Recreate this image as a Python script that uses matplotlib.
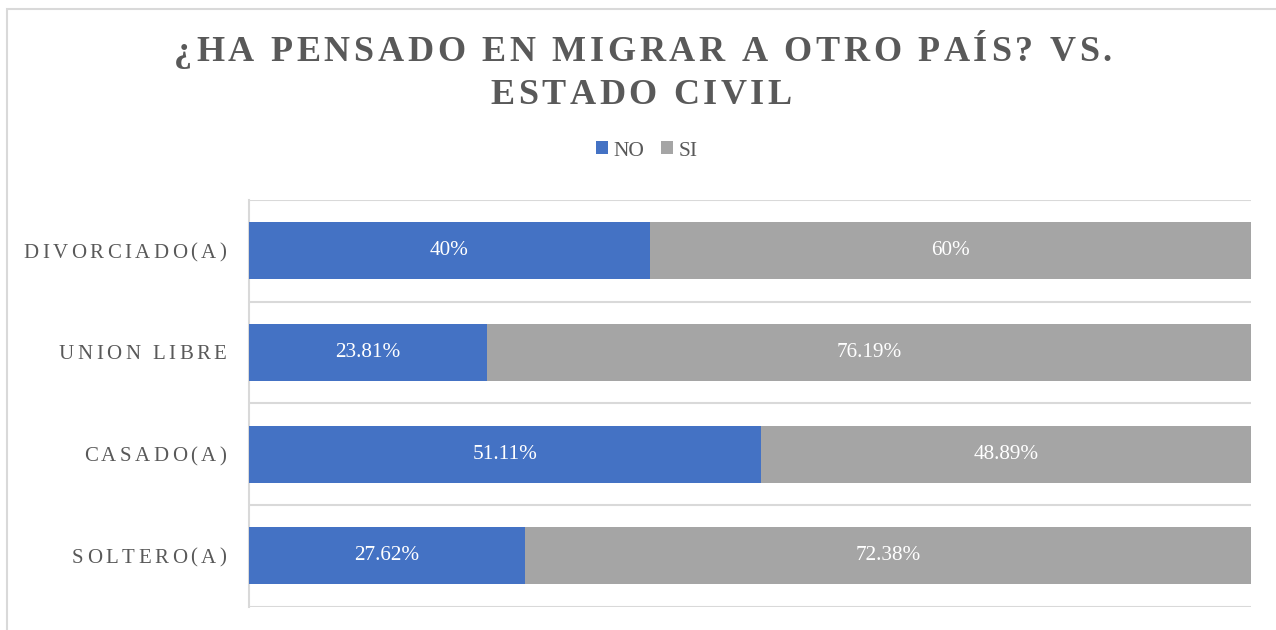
import matplotlib
matplotlib.use("Agg")
import matplotlib.pyplot as plt
from matplotlib.patches import Rectangle
from matplotlib.font_manager import FontProperties, findfont
from matplotlib.ft2font import FT2Font, LoadFlags

# ---- data ----
categories = ["SOLTERO(A)", "CASADO(A)", "UNION LIBRE", "DIVORCIADO(A)"]
no_values = [27.62, 51.11, 23.81, 40]
si_values = [72.38, 48.89, 76.19, 60]
series_names = ["NO", "SI"]
title_lines = ["¿HA PENSADO EN MIGRAR A OTRO PAÍS? VS.", "ESTADO CIVIL"]

# ---- styles ----
W, H, DPI = 1276, 630, 100
BLUE = "#4472C4"
GREY = "#A5A5A5"
TXT = "#595959"
GRID = "#D9D9D9"
SERIF = "Liberation Serif"

fig = plt.figure(figsize=(W / DPI, H / DPI), dpi=DPI)
fig.patch.set_facecolor("white")

# chart-area border (extends beyond right/bottom edge)
fig.patches.append(Rectangle((7 / W, -0.05), 1.2, 1 - 9 / H + 0.05,
                             transform=fig.transFigure, fill=False,
                             edgecolor=GRID, linewidth=1.5, zorder=0))

ax = fig.add_axes([248.5 / W, 1 - 606.7 / H, (1251 - 248.5) / W, (606.7 - 200) / H])
y = list(range(len(categories)))
bh = 0.56
b1 = ax.barh(y, no_values, height=bh, color=BLUE, label=series_names[0], zorder=3)
b2 = ax.barh(y, si_values, left=no_values, height=bh, color=GREY, label=series_names[1], zorder=3)
lab_fp = FontProperties(family=SERIF, size=15.3)
ax.bar_label(b1, labels=[f"{v:g}%" for v in no_values], label_type="center",
             color="white", fontproperties=lab_fp)
ax.bar_label(b2, labels=[f"{v:g}%" for v in si_values], label_type="center",
             color="white", fontproperties=lab_fp)
ax.set_xlim(0, 100)
ax.set_ylim(-0.5, len(categories) - 0.5)
ax.set_xticks([])
ax.set_yticks([i - 0.5 for i in range(len(categories) + 1)])
ax.set_yticklabels([])
ax.tick_params(axis="y", length=0)
ax.grid(axis="y", color=GRID, linewidth=1.5, zorder=0)
for s in ["top", "right", "bottom"]:
    ax.spines[s].set_visible(False)
ax.spines["left"].set_color(GRID)
ax.spines["left"].set_linewidth(1.5)
ax.set_facecolor("none")

# ---- letter-spaced text helper ----
def advances(s, fp):
    font = FT2Font(findfont(fp))
    font.set_size(fp.get_size_in_points(), DPI)
    out = []
    for ch in s:
        g = font.load_char(ord(ch), flags=LoadFlags.NO_HINTING)
        out.append(g.linearHoriAdvance / 65536.0)
    return out

def spaced_text(s, x_px, y_px, fp, spacing, ha="center", color=TXT):
    adv = advances(s, fp)
    total = sum(adv) + spacing * (len(s) - 1)
    if ha == "center":
        x0 = x_px - total / 2
    elif ha == "right":
        x0 = x_px - total
    else:
        x0 = x_px
    for ch, a in zip(s, adv):
        if ch != " ":
            fig.text(x0 / W, 1 - y_px / H, ch, fontproperties=fp, color=color,
                     ha="left", va="baseline")
        x0 += a + spacing

# title
title_fp = FontProperties(family=SERIF, weight="bold", size=26)
spaced_text(title_lines[0], 643, 61, title_fp, 3.7)
spaced_text(title_lines[1], 641, 103.5, title_fp, 3.6)

# category labels
cat_fp = FontProperties(family=SERIF, size=15)
for i, c in enumerate(categories):
    yc = 606.7 - (i + 0.5) * (606.7 - 200) / len(categories)
    spaced_text(c, 226.5, yc + 6.9, cat_fp, 3.5, ha="right")

# legend
leg = fig.legend(handles=[b1, b2], labels=series_names, loc="center",
                 bbox_to_anchor=(647 / W, 1 - 151 / H), ncol=2, frameon=False,
                 prop=FontProperties(family=SERIF, size=15.5),
                 handlelength=0.55, handleheight=0.55, handletextpad=0.25,
                 columnspacing=0.8, borderaxespad=0)
for t in leg.get_texts():
    t.set_color(TXT)

fig.savefig("out.png", dpi=DPI, facecolor="white")
